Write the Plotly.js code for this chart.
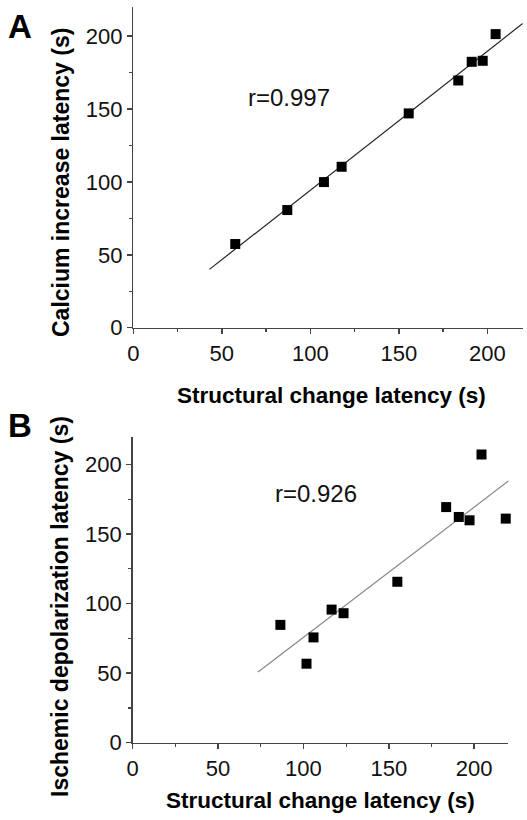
<!DOCTYPE html>
<html><head><meta charset="utf-8">
<script src="https://cdn.plot.ly/plotly-3.0.1.min.js"></script>
<style>html,body{margin:0;padding:0;background:#fff}#chart{width:527px;height:820px}</style>
</head><body><div id="chart"></div>
<script>
// Panel A data
const structA  = [57.6, 87.0, 107.7, 117.7, 155.6, 183.6, 191.2, 197.4, 204.7];
const calciumA = [57.4, 80.7, 99.9, 110.4, 147.0, 169.6, 182.4, 183.1, 201.4];
const fitAx = [43, 220];
const fitAy = [40, 208.7];
// Panel B data
const structB = [86.5, 101.8, 105.9, 116.5, 123.5, 155.0, 183.6, 191.0, 197.3, 204.3, 218.5];
const ischB   = [84.7, 56.8, 75.7, 95.7, 93.1, 115.7, 169.4, 162.3, 159.9, 207.2, 161.1];
const fitBx = [73.4, 221];
const fitBy = [50.8, 189.0];
// Ticks and labels
const tickVals = [0, 50, 100, 150, 200];
const minorVals = [25, 75, 125, 175];
const xTitle = 'Structural change latency (s)';
const yTitleA = 'Calcium increase latency (s)';
const yTitleB = 'Ischemic depolarization latency (s)';
const rA = 'r=0.997', rB = 'r=0.926';
const rApos = [63.7, 157.8], rBpos = [82.2, 179.5];

const SANS = '"Liberation Sans", Arial, sans-serif';
const W = 527, H = 820;

function ax(domain, anchor) {
  return {
    domain: domain, anchor: anchor, range: [0, 220],
    tickmode: 'array', tickvals: tickVals,
    ticks: 'outside', ticklen: 5, tickwidth: 1.5, tickcolor: '#444',
    showline: true, linecolor: '#444', linewidth: 1.5,
    showgrid: false, zeroline: false,
    tickfont: {family: SANS, size: 22, color: '#111'},
    minor: {tickmode: 'array', tickvals: minorVals, ticks: 'outside', ticklen: 3, tickwidth: 1.2, tickcolor: '#444', showgrid: false},
    fixedrange: true
  };
}

const traces = [
  {x: fitAx, y: fitAy, mode: 'lines', line: {color: '#222', width: 1.2}, xaxis: 'x', yaxis: 'y', hoverinfo: 'skip'},
  {x: structA, y: calciumA, mode: 'markers', marker: {symbol: 'square', size: 10, color: '#000'}, xaxis: 'x', yaxis: 'y', cliponaxis: false},
  {x: fitBx, y: fitBy, mode: 'lines', line: {color: '#888', width: 1.2}, xaxis: 'x2', yaxis: 'y2', hoverinfo: 'skip'},
  {x: structB, y: ischB, mode: 'markers', marker: {symbol: 'square', size: 10, color: '#000'}, xaxis: 'x2', yaxis: 'y2', cliponaxis: false}
];

const layout = {
  width: W, height: H, margin: {l: 0, r: 0, t: 0, b: 0},
  paper_bgcolor: '#fff', plot_bgcolor: 'rgba(0,0,0,0)', showlegend: false,
  xaxis: ax([133.3 / W, 522.7 / W], 'y'),
  yaxis: ax([1 - 327.7 / H, 1 - 7 / H], 'x'),
  xaxis2: ax([132.7 / W, 508.3 / W], 'y2'),
  yaxis2: ax([1 - 742.7 / H, 1 - 436.7 / H], 'x2'),
  annotations: [
    {text: '<b>A</b>', xref: 'paper', yref: 'paper', x: 6 / W, y: 1 - 26 / H, xanchor: 'left', yanchor: 'middle', showarrow: false, font: {family: SANS, size: 33, color: '#000'}},
    {text: '<b>B</b>', xref: 'paper', yref: 'paper', x: 6 / W, y: 1 - 425 / H, xanchor: 'left', yanchor: 'middle', showarrow: false, font: {family: SANS, size: 33, color: '#000'}},
    {text: '<b>' + yTitleA + '</b>', xref: 'paper', yref: 'paper', x: 61 / W, y: 1 - 183 / H, xanchor: 'center', yanchor: 'middle', textangle: -90, showarrow: false, font: {family: SANS, size: 23, color: '#000'}},
    {text: '<b>' + yTitleB + '</b>', xref: 'paper', yref: 'paper', x: 60 / W, y: 1 - 607 / H, xanchor: 'center', yanchor: 'middle', textangle: -90, showarrow: false, font: {family: SANS, size: 23, color: '#000'}},
    {text: '<b>' + xTitle + '</b>', xref: 'paper', yref: 'paper', x: 331 / W, y: 1 - 395 / H, xanchor: 'center', yanchor: 'middle', showarrow: false, font: {family: SANS, size: 22.5, color: '#000'}},
    {text: '<b>' + xTitle + '</b>', xref: 'paper', yref: 'paper', x: 320 / W, y: 1 - 800 / H, xanchor: 'center', yanchor: 'middle', showarrow: false, font: {family: SANS, size: 22.5, color: '#000'}},
    {text: rA, xref: 'x', yref: 'y', x: rApos[0], y: rApos[1], xanchor: 'left', yanchor: 'middle', showarrow: false, font: {family: SANS, size: 24, color: '#111'}},
    {text: rB, xref: 'x2', yref: 'y2', x: rBpos[0], y: rBpos[1], xanchor: 'left', yanchor: 'middle', showarrow: false, font: {family: SANS, size: 24, color: '#111'}}
  ]
};

Plotly.newPlot('chart', traces, layout, {displayModeBar: false, staticPlot: true});
</script>
</body></html>
